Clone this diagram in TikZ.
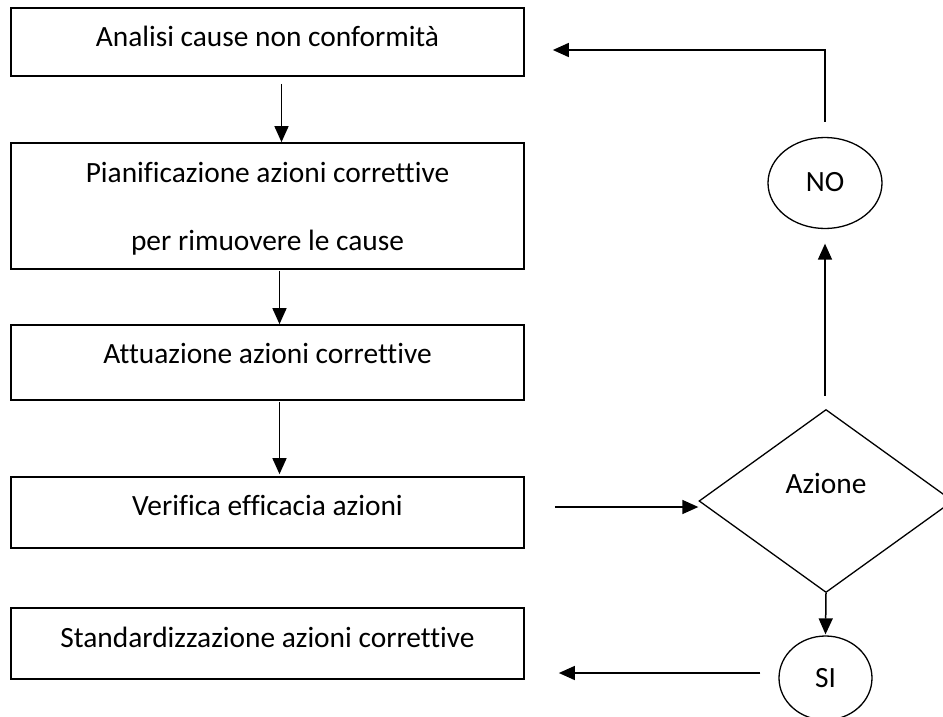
\documentclass[tikz,border=0pt]{standalone}
\usepackage{fontspec}
\setmainfont{Carlito}[Ligatures={NoCommon}]
\usetikzlibrary{shapes.geometric,arrows.meta}
\begin{document}
\begin{tikzpicture}[x=1pt,y=-1pt,
  stepbox/.style={draw,line width=1.7pt,minimum width=513pt,inner sep=0pt,rectangle},
  txt/.style={anchor=base,inner sep=0pt,font=\fontsize{29.4}{33}\selectfont},
  oval/.style={draw,line width=1.3pt,ellipse,inner sep=0pt},
  arr/.style={line width=1.5pt,-{Triangle[length=16pt,width=14pt]}}]
\useasboundingbox (0,0) rectangle (943,717);
% boxes
\node[stepbox,minimum height=68pt] (b1) at (267.5,42) {};
\node[stepbox,minimum height=126pt] (b2) at (267.5,206) {};
\node[stepbox,minimum height=75pt] (b3) at (267.5,362.5) {};
\node[stepbox,minimum height=71pt] (b4) at (267.5,512.5) {};
\node[stepbox,minimum height=71pt] (b5) at (267.5,643.5) {};
% texts
\node[txt] (t1) at (267.5,47) {Analisi cause non conformità};
\node[txt] (t2a) at (267.5,182) {Pianificazione azioni correttive};
\node[txt] (t2b) at (267.5,250) {per rimuovere le cause};
\node[txt] (t3) at (267.5,363) {Attuazione azioni correttive};
\node[txt] (t4) at (267.5,515) {Verifica efficacia azioni};
\node[txt] (t5) at (267.5,647) {Standardizzazione azioni correttive};
% decision
\node[draw,line width=1.3pt,diamond,minimum width=254pt,minimum height=183pt,inner sep=0pt] (dia) at (826,501) {};
\node[txt] (ta) at (826,493) {Azione};
\node[oval,minimum width=114pt,minimum height=91pt] (no) at (825,183) {};
\node[txt] (tno) at (825,191) {NO};
\node[oval,minimum width=93pt,minimum height=84pt] (si) at (825.5,678) {};
\node[txt] (tsi) at (825.5,687) {SI};
% connectors
\draw[arr,shorten <=7pt] ([xshift=14pt]b1.south) -- ([xshift=14pt]b2.north);
\draw[arr,shorten <=1pt] ([xshift=12pt]b2.south) -- ([xshift=12pt]b3.north);
\draw[arr,shorten <=1pt,shorten >=2pt] ([xshift=12pt]b3.south) -- ([xshift=12pt]b4.north);
\draw[arr,shorten <=30pt] ([yshift=5.5pt]b4.east) -- ([yshift=-6pt]dia.west);
\draw[arr,shorten >=1pt] (dia.south) -- (si.north);
\draw[arr,shorten <=18pt,shorten >=34pt] ([yshift=5pt]si.west) -- ([yshift=-29.5pt]b5.east);
\draw[arr,shorten <=13pt,shorten >=14.5pt] (no.south |- dia.north) -- (no.south);
\draw[arr,shorten <=15pt,shorten >=28pt] (no.north) |- ([yshift=-8pt]b1.east);
\end{tikzpicture}
\end{document}
